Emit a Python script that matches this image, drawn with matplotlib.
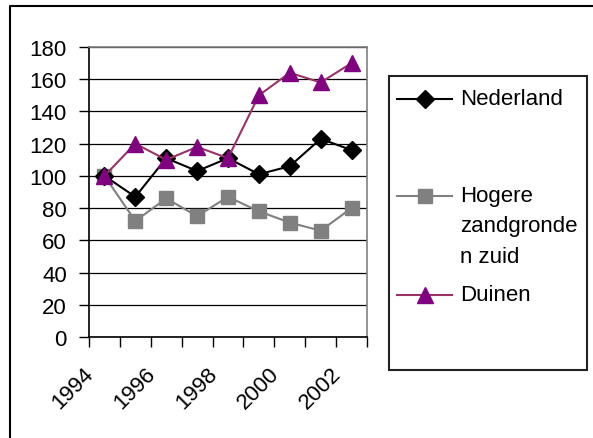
import matplotlib
matplotlib.use("Agg")
import matplotlib.pyplot as plt
from matplotlib.lines import Line2D
from matplotlib.patches import Rectangle
from matplotlib.transforms import ScaledTranslation

plt.rcParams['font.family'] = ['Liberation Sans', 'DejaVu Sans']

# data
years = ['1994', '1995', '1996', '1997', '1998', '1999', '2000', '2001', '2002']
nederland = [100, 87, 111, 103, 111, 101, 106, 123, 116]
hogere = [100, 72, 86, 75, 87, 78, 71, 66, 80]
duinen = [100, 120, 110, 118, 111, 150, 164, 158, 170]
yticks = [0, 20, 40, 60, 80, 100, 120, 140, 160, 180]

W, H = 593, 439
fig = plt.figure(figsize=(W / 100, H / 100), dpi=100)
fs = 16

# plot area in pixels: left 89, right 367, top 48, bottom 338
ax = fig.add_axes([89 / W, 1 - 338 / H, (367 - 89) / W, (338 - 48) / H])
x = list(range(len(years)))

ax.plot(x, nederland, color='black', lw=1.5, marker='D', ms=9,
        mfc='black', mec='black', zorder=4)
ax.plot(x, hogere, color='#808080', lw=1.5, marker='s', ms=10,
        mfc='#808080', mec='#808080', zorder=3)
ax.plot(x, duinen, color='#993366', lw=1.5, marker='^', ms=12,
        mfc='#800080', mec='#800080', zorder=5)

ax.set_xlim(-0.5, len(years) - 0.5)
ax.set_ylim(0, 180)
ax.set_yticks(yticks)
ax.set_yticklabels([str(v) for v in yticks], fontsize=fs)
ax.yaxis.grid(True, color='black', lw=0.9)
ax.set_axisbelow(True)
ax.tick_params(axis='y', direction='out', length=7, width=1, pad=9)

# category boundary ticks, labels every other year
ax.set_xticks([i - 0.5 for i in range(len(years) + 1)])
ax.set_xticklabels([])
ax.tick_params(axis='x', which='major', direction='out', length=7, width=1)
ax.set_xticks(x[::2], minor=True)
ax.set_xticklabels(years[::2], minor=True, fontsize=fs, rotation=45,
                   ha='right', va='center', rotation_mode='anchor')
ax.tick_params(axis='x', which='minor', length=0, pad=24)
off = ScaledTranslation(-0.14, 0, fig.dpi_scale_trans)
for lab in ax.get_xticklabels(minor=True):
    lab.set_transform(lab.get_transform() + off)

for s in ['left', 'bottom']:
    ax.spines[s].set_color('black')
    ax.spines[s].set_linewidth(1.2)
for s in ['top', 'right']:
    ax.spines[s].set_color('#808080')
    ax.spines[s].set_linewidth(1.2)

# overlay in pixel coordinates for chart border and legend
ov = fig.add_axes([0, 0, 1, 1], facecolor='none')
ov.set_xlim(0, W)
ov.set_ylim(H, 0)
ov.axis('off')
ov.plot([10, 10, W], [H, 7, 7], color='black', lw=1.5)

ov.add_patch(Rectangle((389, 77), 198, 294, fill=False, ec='#222222', lw=1.5))
entries = [
    ('Nederland', 100, 'black', 'D', 9, 'black'),
    ('Hogere\nzandgronde\nn zuid', 197, '#808080', 's', 10, '#808080'),
    ('Duinen', 296, '#993366', '^', 12, '#800080'),
]
for label, yy, lc, mk, ms, mc in entries:
    ov.add_line(Line2D([397, 452], [yy, yy], color=lc, lw=1.5))
    ov.add_line(Line2D([425], [yy], marker=mk, ms=ms, mfc=mc, mec=mc, ls='none'))
    ov.text(460, yy - 11, label, fontsize=fs, ha='left', va='top',
            linespacing=1.58)

fig.savefig('out.png', dpi=100)
